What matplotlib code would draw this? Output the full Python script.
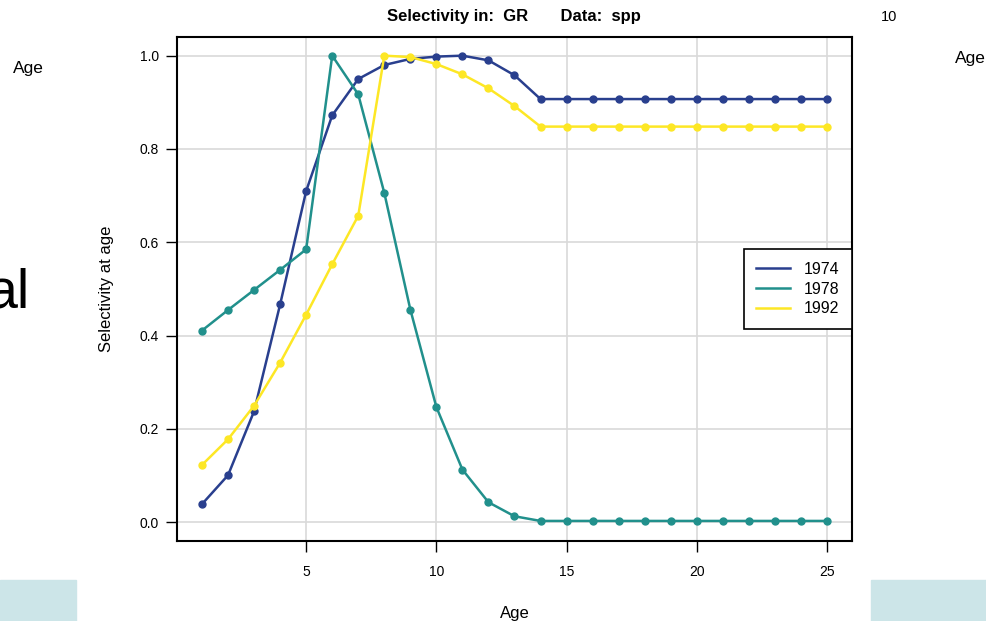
import numpy as np
import matplotlib.pyplot as plt
from matplotlib.patches import Rectangle

plt.rcParams['font.family'] = ['Liberation Sans', 'DejaVu Sans']

ages = np.arange(1, 26)
sel_1974 = [0.039, 0.101, 0.238, 0.467, 0.710, 0.872, 0.950, 0.980, 0.993, 0.998,
            1.000, 0.990, 0.958, 0.907] + [0.907] * 11
sel_1978 = [0.411, 0.455, 0.498, 0.541, 0.585, 1.000, 0.917, 0.706, 0.456, 0.247,
            0.113, 0.043, 0.013, 0.003] + [0.003] * 11
sel_1992 = [0.123, 0.178, 0.250, 0.342, 0.445, 0.553, 0.657, 1.000, 0.997, 0.982,
            0.960, 0.930, 0.892, 0.848] + [0.848] * 11
years = ['1974', '1978', '1992']
colors = ['#293f8e', '#21908c', '#fde725']

fig = plt.figure(figsize=(9.87, 6.21), dpi=100)
ax = fig.add_axes([177/987, 1 - 541/621, 675/987, 504/621])

# faded bits of the slide behind the plot
fig.patches.append(Rectangle((0, 0), 76/987, 41/621, transform=fig.transFigure,
                             color='#cce5e8', zorder=0))
fig.patches.append(Rectangle((871/987, 0), 116/987, 41/621, transform=fig.transFigure,
                             color='#cce5e8', zorder=0))
fig.text(28/987, 1 - 69/621, 'Age', fontsize=12.5, ha='center', va='center')
fig.text(970/987, 1 - 59/621, 'Age', fontsize=12.5, ha='center', va='center')
fig.text(889/987, 1 - 17/621, '10', fontsize=10.5, ha='center', va='center')
fig.text(-13/987, 1 - 293/621, 'al', fontsize=40, ha='left', va='center')

for vals, yr, c in zip([sel_1974, sel_1978, sel_1992], years, colors):
    ax.plot(ages, vals, color=c, lw=1.8, marker='o', ms=5, label=yr, zorder=3)

ax.set_xlim(0.04, 25.96)
ax.set_ylim(-0.04, 1.04)
ax.set_xticks([5, 10, 15, 20, 25])
ax.set_yticks([0.0, 0.2, 0.4, 0.6, 0.8, 1.0])
ax.set_yticklabels(['0.0', '0.2', '0.4', '0.6', '0.8', '1.0'])
ax.grid(True, color='#d9d9d9', lw=1.2)
ax.set_axisbelow(True)
ax.tick_params(direction='out', length=8, width=1, labelsize=10)
ax.tick_params(axis='x', pad=9)
ax.tick_params(axis='y', pad=5)
for s in ax.spines.values():
    s.set_linewidth(1.5)

fig.text(514/987, 1 - 17/621, 'Selectivity in:  GR       Data:  spp',
         fontsize=12, fontweight='bold', ha='center', va='center')
ax.set_xlabel('Age', fontsize=12)
ax.xaxis.set_label_coords(0.5, -(606 - 541) / 504)
ax.set_ylabel('Selectivity at age', fontsize=12)
ax.yaxis.set_label_coords((114 - 177) / 675, 0.5)

leg = ax.legend(loc='center right', bbox_to_anchor=(1.0, 0.5), borderaxespad=0,
                fancybox=False, edgecolor='black', fontsize=11.5, handlelength=2.1,
                framealpha=1, borderpad=0.8, labelspacing=0.3, handletextpad=0.85)
for h in leg.legend_handles:
    h.set_marker('')
leg.get_frame().set_linewidth(1.2)

fig.savefig('out.png', dpi=100)
